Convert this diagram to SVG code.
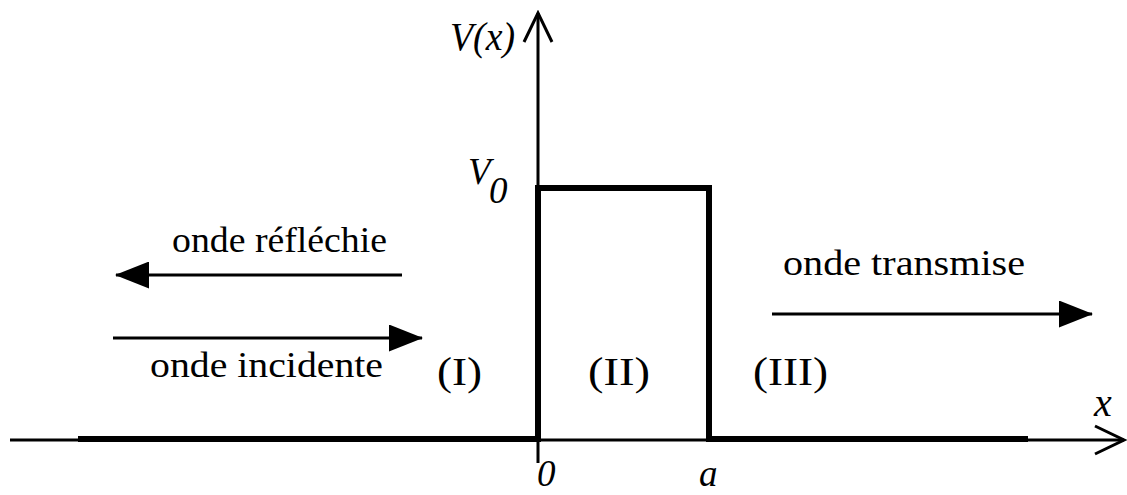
<svg xmlns="http://www.w3.org/2000/svg" width="1127" height="495" viewBox="0 0 1127 495">
  <style>
    .thin { stroke: #000; stroke-width: 3; fill: none; }
    .thick { stroke: #000; stroke-width: 6; fill: none; stroke-linejoin: miter; stroke-linecap: butt; }
    .wave { stroke: #000; stroke-width: 3; fill: none; marker-end: url(#head); }
    .t { font-family: "Liberation Serif", "Times New Roman", serif; fill: #000; }
    .it { font-style: italic; }
  </style>
  <defs>
    <marker id="head" viewBox="0 0 34 27" refX="33" refY="13.5" markerWidth="34" markerHeight="27" markerUnits="userSpaceOnUse" orient="auto">
      <path d="M0,0 L34,13.5 L0,27 Z" fill="#000"/>
    </marker>
    <marker id="open" viewBox="-2 -2 34 32" refX="29" refY="14" markerWidth="34" markerHeight="32" markerUnits="userSpaceOnUse" orient="auto">
      <path d="M0,0 L29,14 L0,28" fill="none" stroke="#000" stroke-width="3"/>
    </marker>
  </defs>
  <rect width="1127" height="495" fill="#fff"/>

  <g id="axes">
    <line class="thin" x1="10" y1="440" x2="1124" y2="440" marker-end="url(#open)"/>
    <line class="thin" x1="538" y1="463" x2="538" y2="13" marker-end="url(#open)"/>
  </g>

  <g id="potential">
    <polyline class="thick" points="78,439 538,439 538,188 709,188 709,439 1028,439"/>
  </g>

  <g id="connectors">
    <line class="wave" x1="402" y1="275" x2="116" y2="275"/>
    <line class="wave" x1="113" y1="338" x2="422" y2="338"/>
    <line class="wave" x1="772" y1="314" x2="1092" y2="314"/>
  </g>

  <g id="label-Vx"><text class="t it" x="450" y="50" font-size="40" textLength="65" lengthAdjust="spacingAndGlyphs">V(x)</text></g>
  <g id="label-V0">
    <text class="t it" x="468" y="184" font-size="37">V</text>
    <text class="t it" x="489" y="203" font-size="37">0</text>
  </g>
  <g id="label-reflechie"><text class="t" x="172" y="252" font-size="35" textLength="215" lengthAdjust="spacingAndGlyphs">onde réfléchie</text></g>
  <g id="label-incidente"><text class="t" x="150" y="377" font-size="36" textLength="233" lengthAdjust="spacingAndGlyphs">onde incidente</text></g>
  <g id="label-transmise"><text class="t" x="783" y="275" font-size="36" textLength="242" lengthAdjust="spacingAndGlyphs">onde transmise</text></g>
  <g id="region-I"><text class="t" x="437" y="385" font-size="41" textLength="45" lengthAdjust="spacingAndGlyphs">(I)</text></g>
  <g id="region-II"><text class="t" x="588" y="385" font-size="41" textLength="62" lengthAdjust="spacingAndGlyphs">(II)</text></g>
  <g id="region-III"><text class="t" x="753" y="385" font-size="41" textLength="75" lengthAdjust="spacingAndGlyphs">(III)</text></g>
  <g id="label-0"><text class="t it" x="537" y="486" font-size="37">0</text></g>
  <g id="label-a"><text class="t it" x="699" y="486" font-size="37">a</text></g>
  <g id="label-x"><text class="t it" x="1094" y="416" font-size="40">x</text></g>
</svg>
